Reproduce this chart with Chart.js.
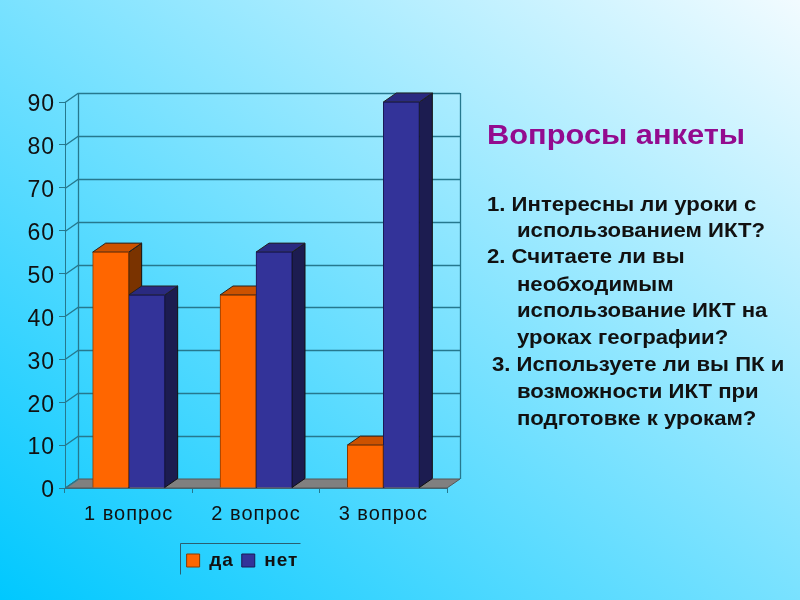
<!DOCTYPE html>
<html>
<head>
<meta charset="utf-8">
<script src="https://cdn.jsdelivr.net/npm/chart.js@4"></script>
<style>
  html, body { margin: 0; padding: 0; }
  body {
    width: 800px; height: 600px; position: relative; overflow: hidden;
    background: linear-gradient(to top right, #00c8ff 0%, #f2fbff 100%);
    font-family: "Liberation Sans", Arial, sans-serif;
  }
  canvas { position: absolute; left: 0; top: 0; }
  .line { position: absolute; white-space: pre; font-weight: bold; font-size: 20px; color: #111; line-height: 20px; transform: scaleX(1.107); transform-origin: left top; }
  .title { color: #930b8f; font-size: 28px; line-height: 28px; transform: scaleX(1.1); }
</style>
</head>
<body>
<canvas id="chart" width="800" height="600"></canvas>
<div class="line title" style="left:487px;top:121px">Вопросы анкеты</div>
<div class="line" style="left:487px;top:194px">1. Интересны ли уроки с</div>
<div class="line" style="left:517px;top:220px">использованием ИКТ?</div>
<div class="line" style="left:487px;top:246px">2. Считаете ли вы</div>
<div class="line" style="left:517px;top:274px">необходимым</div>
<div class="line" style="left:517px;top:300px">использование ИКТ на</div>
<div class="line" style="left:517px;top:327px">уроках географии?</div>
<div class="line" style="left:492px;top:354px">3. Используете ли вы ПК и</div>
<div class="line" style="left:517px;top:381px">возможности ИКТ при</div>
<div class="line" style="left:517px;top:408px">подготовке к урокам?</div>
<script>
// chart data
const categories = ["1 вопрос", "2 вопрос", "3 вопрос"];
const yesValues = [55, 45, 10];
const noValues = [45, 55, 90];
const seriesNames = ["да", "нет"];

// 3d look: depth of the box in pixels
const DX = 13, DY = -9;
const AXIS = "#26788e";

function poly(ctx, pts, fill, stroke) {
    ctx.beginPath();
    pts.forEach((p, i) => i ? ctx.lineTo(p[0], p[1]) : ctx.moveTo(p[0], p[1]));
    ctx.closePath();
    ctx.fillStyle = fill;
    ctx.fill();
    ctx.strokeStyle = stroke;
    ctx.lineWidth = 1;
    ctx.stroke();
}

const box3d = {
    id: "box3d",
    // the reference labels are a bit stretched sideways
    beforeDraw(chart) {
        chart.ctx.letterSpacing = "1px";
    },
    // centre the legend items on the reference box, wide enough not to wrap
    afterLayout(chart) {
        const lg = chart.legend;
        lg.left = 100;
        lg.right = 380;
        lg.top = 543;
        lg.bottom = 574;
    },
    beforeDatasetsDraw(chart) {
        const { ctx, chartArea: a, scales: { y } } = chart;
        ctx.save();

        // floor
        poly(ctx, [[a.left, a.bottom], [a.right, a.bottom], [a.right + DX, a.bottom + DY], [a.left + DX, a.bottom + DY]], "#808080", "#555");

        // back wall lines
        ctx.strokeStyle = AXIS;
        ctx.lineWidth = 1.3;
        y.ticks.forEach(t => {
            const py = Math.round(y.getPixelForValue(t.value)) + 0.5;
            ctx.beginPath();
            ctx.moveTo(a.left, py);
            ctx.lineTo(a.left + DX, py + DY);
            if (t.value > 0) ctx.lineTo(a.right + DX, py + DY);
            ctx.stroke();
        });
        ctx.beginPath();
        ctx.moveTo(a.left + DX + 0.5, a.top + DY);
        ctx.lineTo(a.left + DX + 0.5, a.bottom + DY);
        ctx.moveTo(a.right + DX + 0.5, a.top + DY);
        ctx.lineTo(a.right + DX + 0.5, a.bottom + DY);
        ctx.stroke();

        // bar tops and sides, front faces come from chart.js
        chart.data.datasets.forEach((ds, i) => {
            chart.getDatasetMeta(i).data.forEach(bar => {
                const l = bar.x - bar.width / 2, r = bar.x + bar.width / 2;
                poly(ctx, [[r, bar.y], [r + DX, bar.y + DY], [r + DX, bar.base + DY], [r, bar.base]], ds.sideColor, "#111");
                poly(ctx, [[l, bar.y], [l + DX, bar.y + DY], [r + DX, bar.y + DY], [r, bar.y]], ds.topColor, "#222");
            });
        });
        ctx.restore();
    },
    // legend keeps only its top and left border
    afterDraw(chart) {
        const { ctx } = chart;
        ctx.save();
        ctx.strokeStyle = "#2a5f70";
        ctx.lineWidth = 1;
        ctx.beginPath();
        ctx.moveTo(300.5, 543.5);
        ctx.lineTo(180.5, 543.5);
        ctx.lineTo(180.5, 574.5);
        ctx.stroke();
        ctx.restore();
    }
};

new Chart(document.getElementById("chart"), {
    type: "bar",
    plugins: [box3d],
    data: {
        labels: categories,
        datasets: [
            { label: seriesNames[0], data: yesValues, backgroundColor: "#ff6600", borderColor: "#8a3a00", borderWidth: 1, topColor: "#cc5200", sideColor: "#7a3300" },
            { label: seriesNames[1], data: noValues, backgroundColor: "#333399", borderColor: "#1a1a55", borderWidth: 1, topColor: "#2a2a80", sideColor: "#1c1c50" }
        ]
    },
    options: {
        responsive: false,
        animation: false,
        layout: { padding: { left: 0, top: 102, right: 353, bottom: 28 } },
        datasets: { bar: { barThickness: 36 } },
        plugins: {
            tooltip: { enabled: false },
            legend: {
                position: "bottom",
                labels: { color: "#111", font: { family: "Liberation Sans", size: 19, weight: "bold" }, boxWidth: 13, boxHeight: 13, padding: 8 }
            }
        },
        scales: {
            x: {
                grid: { drawOnChartArea: false, color: AXIS, tickLength: 5 },
                border: { color: AXIS },
                ticks: { color: "#111", font: { family: "Liberation Sans", size: 20 }, padding: 9, maxRotation: 0 }
            },
            y: {
                min: 0, max: 90,
                afterFit(s) { s.width = 65; },
                grid: { drawOnChartArea: false, color: AXIS, tickLength: 6 },
                border: { color: AXIS },
                ticks: { stepSize: 10, color: "#111", font: { family: "Liberation Sans", size: 23 }, padding: 4, labelOffset: 3 }
            }
        }
    }
});
</script>
</body>
</html>
